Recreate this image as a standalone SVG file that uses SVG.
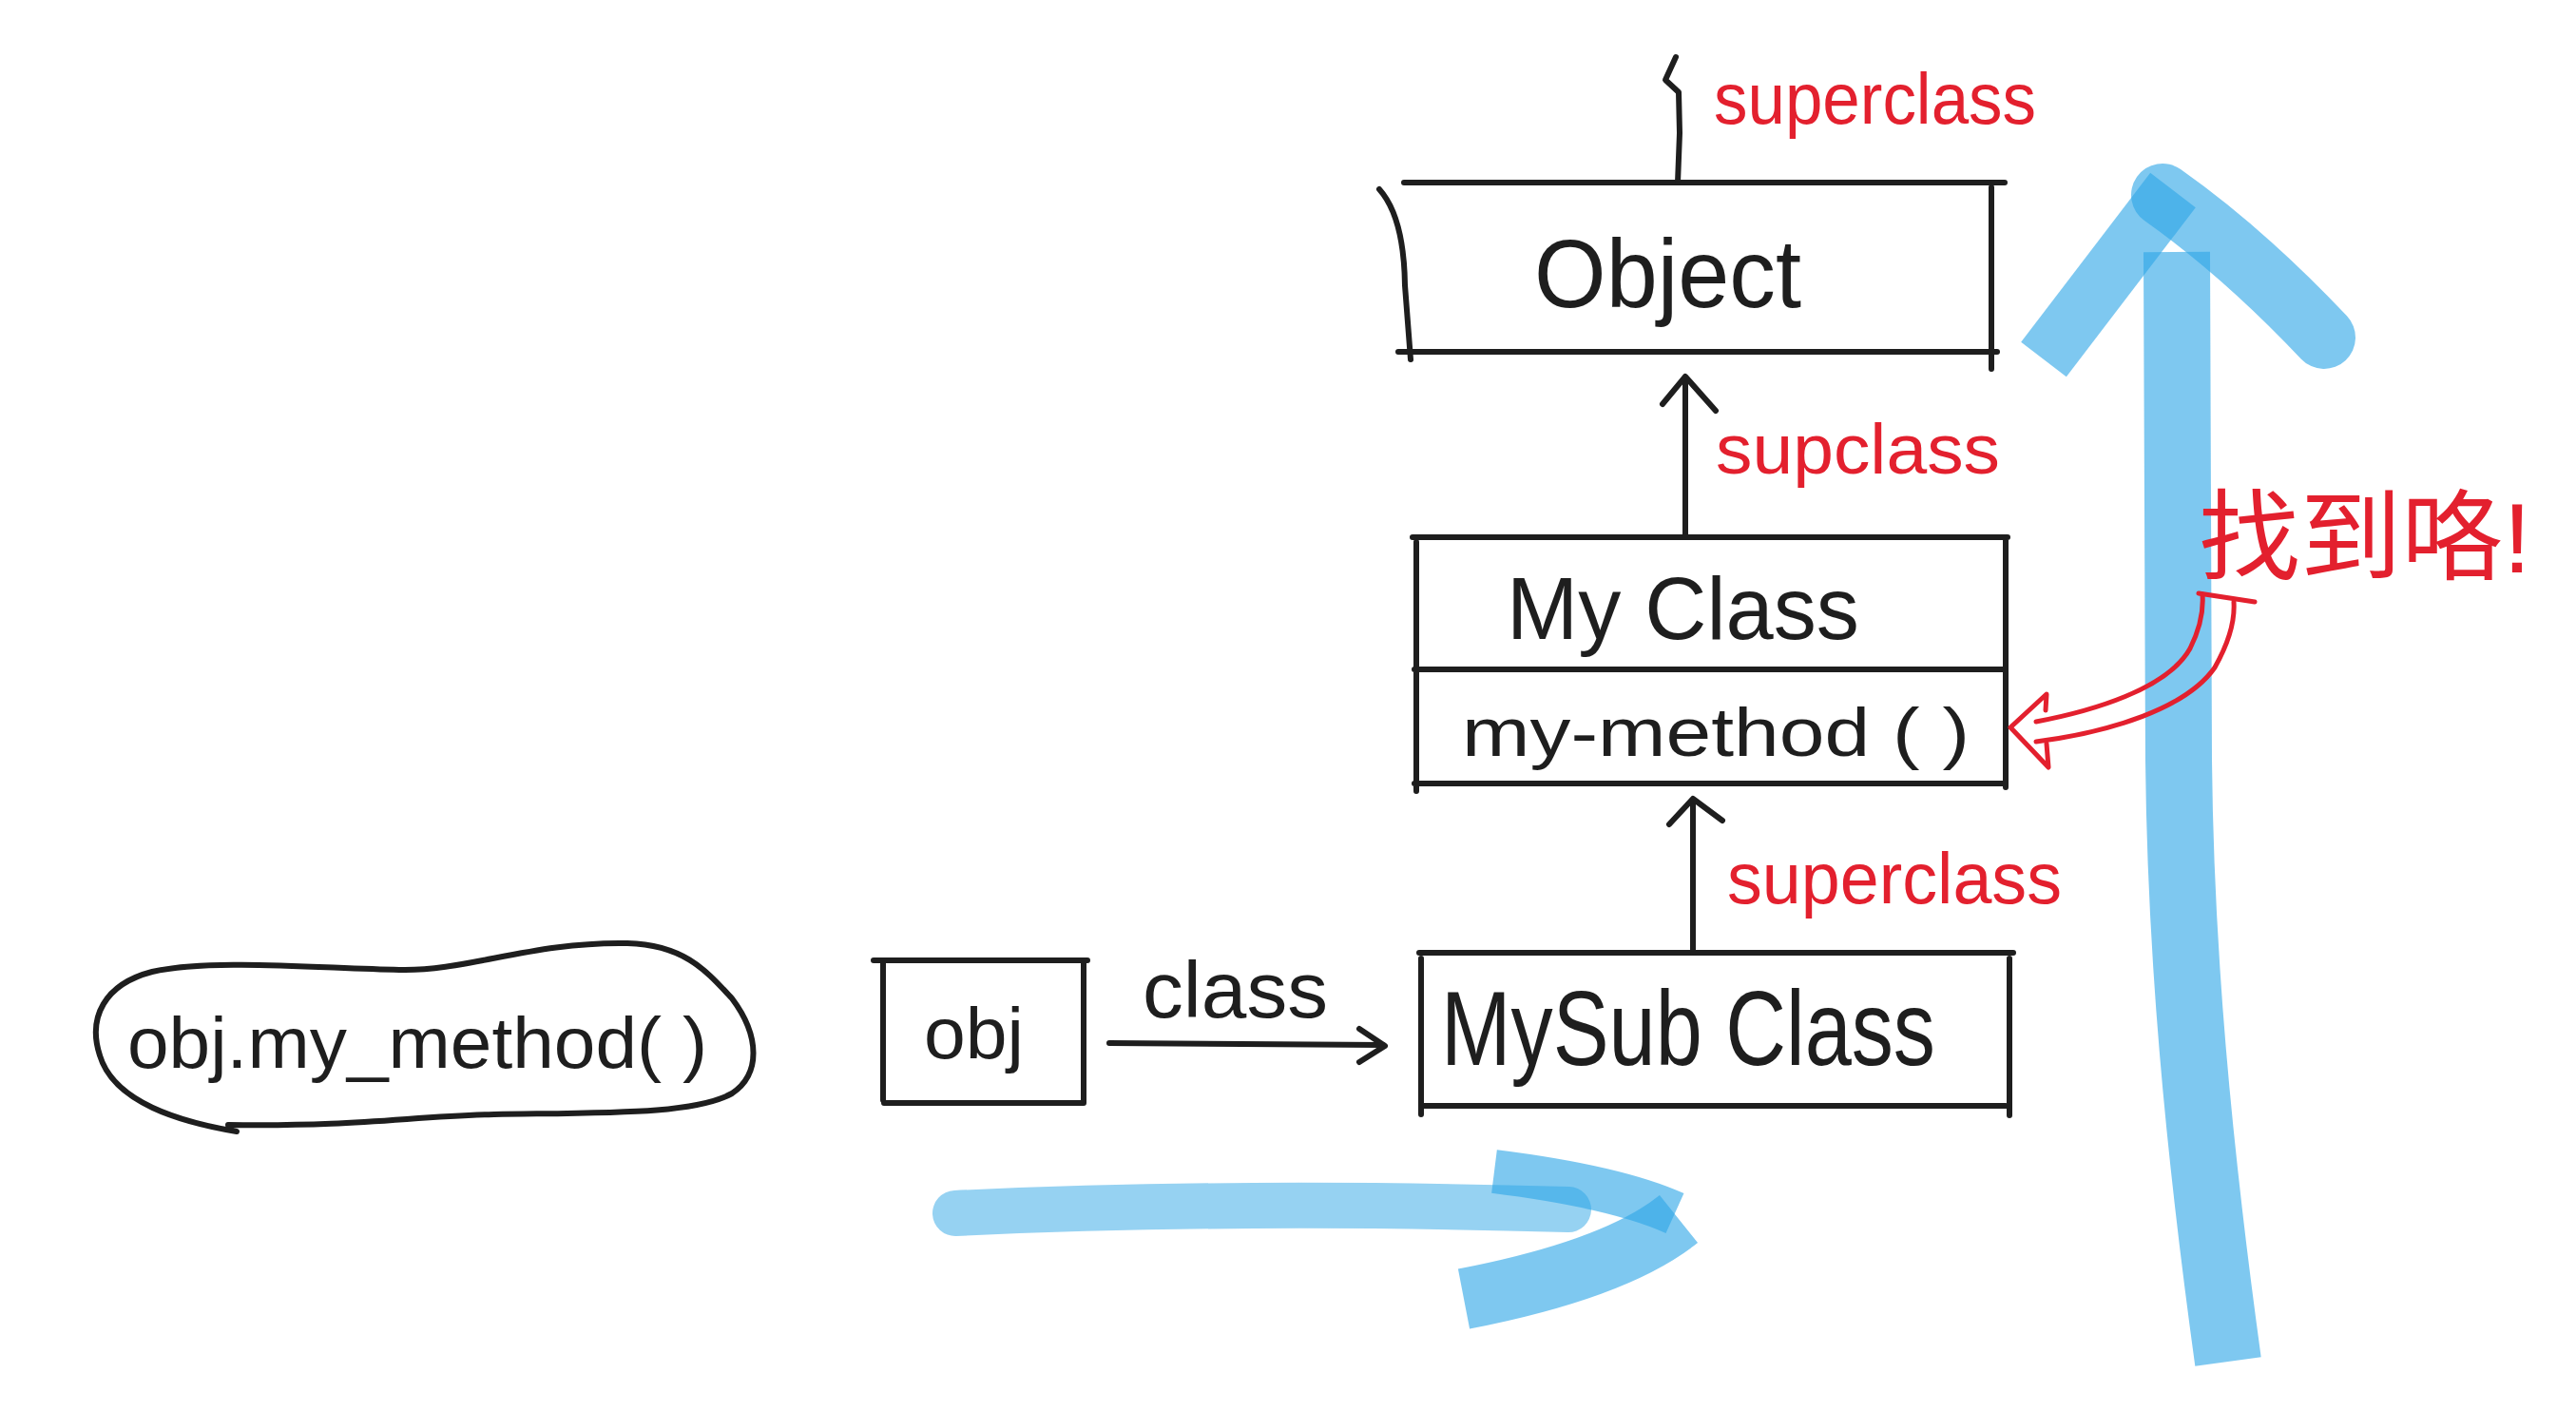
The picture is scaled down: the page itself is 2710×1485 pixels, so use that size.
<svg xmlns="http://www.w3.org/2000/svg" width="2710" height="1485" viewBox="0 0 2710 1485">
<style>
.ink{fill:none;stroke:#1e1e1e;stroke-width:6;stroke-linecap:round;stroke-linejoin:round}
.red{fill:none;stroke:#e3202e;stroke-width:5;stroke-linecap:round;stroke-linejoin:round}
.blue{fill:none;stroke:#2ea6e6;stroke-linecap:butt;stroke-linejoin:round;opacity:0.62}
.t{font-family:"Liberation Sans","Noto Sans",sans-serif;fill:#1e1e1e}
.r{font-family:"Liberation Sans","Noto Sans CJK SC",sans-serif;fill:#e3202e}
</style>
<rect width="2710" height="1485" fill="#ffffff"/>

<g id="highlights">
  <path class="blue" stroke-width="48" style="stroke-linecap:round;opacity:0.5" d="M 1005 1276 Q 1300 1262 1650 1272"/>
  <path class="blue" stroke-width="46" d="M 1572 1232 Q 1700 1248 1762 1276"/>
  <path class="blue" stroke-width="64" d="M 1766 1282 Q 1700 1335 1540 1366"/>
  <path class="blue" stroke-width="70" d="M 2344 1432 C 2312 1200, 2294 1000, 2292 800 L 2290 265"/>
  <path class="blue" stroke-width="60" d="M 2150 378 L 2286 200"/>
  <path class="blue" stroke-width="66" style="stroke-linecap:round" d="M 2275 205 Q 2360 265 2445 355"/>
</g>

<g id="node-call">
  <path class="ink" d="M 249 1190 C 190 1180, 120 1160, 105 1110 C 92 1070, 110 1035, 160 1022 C 220 1008, 330 1018, 420 1020 C 490 1022, 560 990, 660 992 C 720 994, 742 1020, 770 1050 C 800 1090, 800 1130, 770 1150 C 730 1172, 640 1170, 520 1172 C 430 1174, 380 1185, 240 1183"/>
  <text class="t" x="134" y="1123" font-size="76" textLength="610" lengthAdjust="spacingAndGlyphs">obj.my_method( )</text>
</g>

<g id="node-obj">
  <path class="ink" d="M 919 1010 L 1144 1010 M 929 1010 L 929 1157 M 1140 1010 L 1140 1160 M 930 1160 L 1140 1160"/>
  <text class="t" x="972" y="1113" font-size="76" textLength="105" lengthAdjust="spacingAndGlyphs">obj</text>
</g>

<g id="node-mysubclass">
  <path class="ink" d="M 1493 1002 L 2118 1002 M 1495 1008 L 1495 1172 M 2114 1008 L 2114 1173 M 1496 1163 L 2110 1163"/>
  <text class="t" x="1516" y="1120" font-size="112" textLength="520" lengthAdjust="spacingAndGlyphs">MySub Class</text>
</g>

<g id="node-myclass">
  <path class="ink" d="M 1486 565 L 2112 565 M 1490 570 L 1490 832 M 2110 565 L 2110 828 M 1488 704 L 2108 704 M 1488 824 L 2108 824"/>
  <text class="t" x="1585" y="672" font-size="92" textLength="371" lengthAdjust="spacingAndGlyphs">My Class</text>
  <text class="t" x="1538" y="795" font-size="72" textLength="534" lengthAdjust="spacingAndGlyphs">my-method ( )</text>
</g>

<g id="node-object">
  <path class="ink" d="M 1477 192 L 2109 192 M 1451 199 Q 1477 228 1478 300 L 1484 378 M 2095 197 L 2095 388 M 1471 370 L 2101 370"/>
  <text class="t" x="1614" y="323" font-size="102" textLength="281" lengthAdjust="spacingAndGlyphs">Object</text>
</g>

<g id="connectors">
  <path class="ink" d="M 1167 1097 L 1455 1099"/>
  <path class="ink" d="M 1430 1082 L 1457 1100 L 1430 1117"/>
  <text class="t" x="1202" y="1070" font-size="84" textLength="195" lengthAdjust="spacingAndGlyphs">class</text>

  <path class="ink" d="M 1781 1002 L 1781 842"/>
  <path class="ink" d="M 1756 867 L 1781 840 L 1812 863"/>
  <text class="r" x="1817" y="950" font-size="76" textLength="352" lengthAdjust="spacingAndGlyphs">superclass</text>

  <path class="ink" d="M 1773 563 L 1773 397"/>
  <path class="ink" d="M 1749 425 L 1773 396 L 1805 432"/>
  <text class="r" x="1805" y="498" font-size="74" textLength="299" lengthAdjust="spacingAndGlyphs">supclass</text>

  <path class="ink" d="M 1765 192 L 1767 140 L 1766 97 L 1752 84 L 1763 60"/>
  <text class="r" x="1803" y="130" font-size="76" textLength="339" lengthAdjust="spacingAndGlyphs">superclass</text>

  <path class="red" d="M 2142 759 C 2200 748, 2280 725, 2304 682 C 2316 658, 2318 638, 2317 625"/>
  <path class="red" d="M 2313 624 L 2372 633"/>
  <path class="red" d="M 2142 780 C 2220 770, 2300 745, 2330 702 C 2347 672, 2351 648, 2350 633"/>
  <path class="red" d="M 2152 747 L 2153 730 L 2115 765 L 2155 807 L 2153 782"/>
  <text class="r" x="2313" y="602" font-size="104" textLength="350" lengthAdjust="spacingAndGlyphs">找到咯!</text>
</g>
</svg>
